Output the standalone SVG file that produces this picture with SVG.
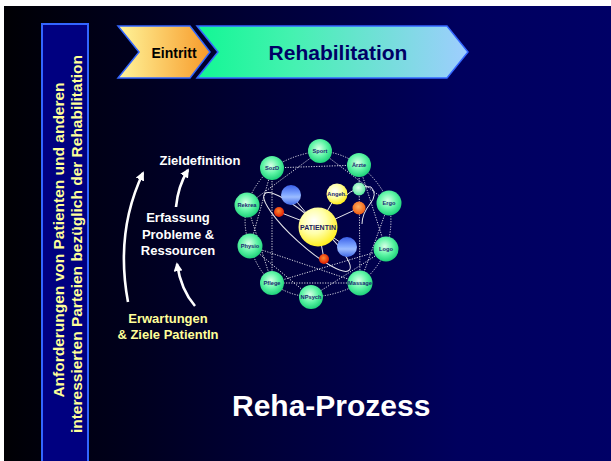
<svg xmlns="http://www.w3.org/2000/svg" width="611" height="461" viewBox="0 0 611 461">
<defs>
<linearGradient id="bg" x1="0" y1="0" x2="1" y2="0">
<stop offset="0" stop-color="#000004"/>
<stop offset="0.75" stop-color="#00005e"/>
<stop offset="1" stop-color="#000066"/>
</linearGradient>
<linearGradient id="gEin" x1="0" y1="0" x2="1" y2="0">
<stop offset="0" stop-color="#fff59a"/>
<stop offset="1" stop-color="#f79a2a"/>
</linearGradient>
<linearGradient id="gReha" x1="0" y1="0" x2="1" y2="0">
<stop offset="0" stop-color="#12f794"/>
<stop offset="0.35" stop-color="#44f2b0"/>
<stop offset="1" stop-color="#9fcdff"/>
</linearGradient>
<radialGradient id="gGreen" cx="0.45" cy="0.4" r="0.6">
<stop offset="0" stop-color="#d8ffe6"/>
<stop offset="0.55" stop-color="#5ff5a6"/>
<stop offset="1" stop-color="#1ed27a"/>
</radialGradient>
<radialGradient id="gYellow" cx="0.4" cy="0.35" r="0.65">
<stop offset="0" stop-color="#ffffff"/>
<stop offset="0.5" stop-color="#ffffa8"/>
<stop offset="1" stop-color="#ffee22"/>
</radialGradient>
<linearGradient id="gBlue" x1="0" y1="0" x2="0" y2="1">
<stop offset="0" stop-color="#3a5fe8"/>
<stop offset="0.45" stop-color="#7fa6ff"/>
<stop offset="0.6" stop-color="#9cbcff"/>
<stop offset="1" stop-color="#3d66e6"/>
</linearGradient>
<radialGradient id="gOrange" cx="0.45" cy="0.4" r="0.6">
<stop offset="0" stop-color="#ffb060"/>
<stop offset="1" stop-color="#f05a10"/>
</radialGradient>
<radialGradient id="gRed" cx="0.45" cy="0.4" r="0.6">
<stop offset="0" stop-color="#ff8a30"/>
<stop offset="1" stop-color="#e01a00"/>
</radialGradient>
<radialGradient id="gLight" cx="0.45" cy="0.4" r="0.6">
<stop offset="0" stop-color="#e0fff0"/>
<stop offset="1" stop-color="#55e89a"/>
</radialGradient>
<marker id="arr" viewBox="0 0 10 10" refX="8" refY="5" markerWidth="9" markerHeight="9" markerUnits="userSpaceOnUse" orient="auto">
<path d="M0,0 L10,5 L0,10 z" fill="#ffffff"/>
</marker>
<style>
.vt{font-family:"Liberation Sans",Arial,sans-serif;font-weight:bold;font-size:15.5px;fill:#ffff99}
.wt{font-family:"Liberation Sans",Arial,sans-serif;font-weight:bold;font-size:13px;fill:#ffffff}
.yt{font-family:"Liberation Sans",Arial,sans-serif;font-weight:bold;font-size:13px;fill:#ffff99}
.nl{font-family:"Liberation Sans",Arial,sans-serif;font-weight:bold;font-size:5.7px;fill:#1a2870}
.node{fill:url(#gGreen)}
.dot{fill:none;stroke:#ffffff;stroke-width:1;stroke-dasharray:1.2 1.4;opacity:0.85}
.sol{fill:none;stroke:#ffffff;stroke-width:1;opacity:0.9}
.arrow{fill:none;stroke:#ffffff;stroke-width:2.6;marker-end:url(#arr)}
</style>
</defs>

<rect x="0" y="0" width="611" height="461" fill="#ffffff"/>
<rect x="4" y="6" width="607" height="455" fill="url(#bg)"/>

<g id="side-box">
<rect x="42" y="24" width="46" height="445" fill="#000080" stroke="#3366ff" stroke-width="2"/>
<text class="vt" transform="translate(64,240) rotate(-90)" text-anchor="middle">Anforderungen von Patienten und anderen</text>
<text class="vt" transform="translate(82,244) rotate(-90)" text-anchor="middle">interessierten Parteien bezüglich der Rehabilitation</text>
</g>

<g id="eintritt">
<polygon points="118,26 190,26 210,52 190,78 118,78 139,52" fill="url(#gEin)" stroke="#3366ff" stroke-width="1.5"/>
<text x="174" y="57.5" text-anchor="middle" font-family="'Liberation Sans',Arial,sans-serif" font-weight="bold" font-size="14" fill="#000000">Eintritt</text>
</g>

<g id="rehabilitation">
<polygon points="197,26 447,26 468,52 447,78 197,78 218,52" fill="url(#gReha)" stroke="#3366ff" stroke-width="1.5"/>
<text x="338" y="60" text-anchor="middle" font-family="'Liberation Sans',Arial,sans-serif" font-weight="bold" font-size="21" fill="#000066">Rehabilitation</text>
</g>

<g id="labels">
<text class="wt" x="159.5" y="165">Zieldefinition</text>
<text class="wt" x="178" y="222" text-anchor="middle">Erfassung</text>
<text class="wt" x="178" y="238.5" text-anchor="middle">Probleme &amp;</text>
<text class="wt" x="178" y="255" text-anchor="middle">Ressourcen</text>
<text class="yt" x="168" y="322.5" text-anchor="middle">Erwartungen</text>
<text class="yt" x="168" y="338.5" text-anchor="middle">&amp; Ziele PatientIn</text>
</g>

<g id="arrows">
<path class="arrow" d="M128,302 Q115,232 143,173"/>
<path class="arrow" d="M176,207 Q178,186 188,170"/>
<path class="arrow" d="M195,306 Q181,290 177,264"/>
</g>

<g id="connectors">
<!-- outer ring -->
<path class="dot" d="M320,151 Q341,152 359,165"/>
<path class="dot" d="M359,165 Q379,180 389,203"/>
<path class="dot" d="M389,203 Q394,226 386,249"/>
<path class="dot" d="M386,249 Q378,270 360,283"/>
<path class="dot" d="M360,283 Q337,296 311,297"/>
<path class="dot" d="M311,297 Q289,296 272,283"/>
<path class="dot" d="M272,283 Q256,268 250,246"/>
<path class="dot" d="M250,246 Q242,226 247,205"/>
<path class="dot" d="M247,205 Q254,183 272,168"/>
<path class="dot" d="M272,168 Q294,154 320,151"/>
<!-- chords -->
<path class="dot" d="M320,151 L389,203"/>
<path class="dot" d="M359,165 L386,249"/>
<path class="dot" d="M389,203 L360,283"/>
<path class="dot" d="M386,249 L311,297"/>
<path class="dot" d="M360,283 L272,283"/>
<path class="dot" d="M311,297 L250,246"/>
<path class="dot" d="M272,283 L247,205"/>
<path class="dot" d="M250,246 L272,168"/>
<path class="dot" d="M247,205 L320,151"/>
<path class="dot" d="M272,168 L359,165"/>
<path class="dot" d="M250,246 L360,283"/>
<path class="dot" d="M272,283 L386,249"/>
<path class="dot" d="M359,165 L360,283"/>
<path class="dot" d="M272,168 L272,283"/>
<!-- orbits and spokes -->
<ellipse class="sol" cx="307" cy="232" rx="57" ry="13" transform="rotate(42 307 232)"/>
<path class="sol" d="M343,198 Q358,184 371,187 Q378,194 370,204 Q362,214 362,224"/>
<line class="sol" x1="291" y1="195" x2="318" y2="227"/>
<line class="sol" x1="279" y1="212" x2="318" y2="227"/>
<line class="sol" x1="337" y1="194" x2="318" y2="227"/>
<line class="sol" x1="359" y1="208" x2="318" y2="227"/>
<line class="sol" x1="347" y1="247" x2="318" y2="227"/>
<line class="sol" x1="324" y1="259" x2="318" y2="227"/>
</g>

<g id="satellites">
<circle cx="291" cy="195" r="10" fill="url(#gBlue)"/>
<circle cx="347" cy="247" r="10" fill="url(#gBlue)"/>
<circle cx="359" cy="189" r="6.5" fill="url(#gLight)"/>
<circle cx="359" cy="208" r="6.5" fill="url(#gOrange)"/>
<circle cx="279" cy="212" r="5" fill="url(#gRed)"/>
<circle cx="324" cy="259" r="5" fill="url(#gRed)"/>
</g>

<g id="patientin">
<circle cx="318" cy="227" r="19.5" fill="url(#gYellow)"/>
<text x="318" y="229.5" text-anchor="middle" font-family="'Liberation Sans',Arial,sans-serif" font-weight="bold" font-size="7" fill="#1a2060">PATIENTIN</text>
</g>
<g id="angeh">
<circle cx="337" cy="194" r="10.5" fill="url(#gYellow)"/>
<text class="nl" x="337" y="196" text-anchor="middle">Angeh.</text>
</g>

<g id="sport"><circle class="node" cx="320" cy="151" r="12"/><text class="nl" x="320" y="153" text-anchor="middle">Sport</text></g>
<g id="aerzte"><circle class="node" cx="359" cy="165" r="12"/><text class="nl" x="359" y="167" text-anchor="middle">Ärzte</text></g>
<g id="ergo"><circle class="node" cx="389" cy="203" r="12.5"/><text class="nl" x="389" y="205" text-anchor="middle">Ergo</text></g>
<g id="logo"><circle class="node" cx="386" cy="249" r="12.5"/><text class="nl" x="386" y="251" text-anchor="middle">Logo</text></g>
<g id="massage"><circle class="node" cx="360" cy="283" r="12.5"/><text class="nl" x="360" y="285" text-anchor="middle">Massage</text></g>
<g id="npsych"><circle class="node" cx="311" cy="297" r="12"/><text class="nl" x="311" y="299" text-anchor="middle">NPsych</text></g>
<g id="pflege"><circle class="node" cx="272" cy="283" r="12"/><text class="nl" x="272" y="285" text-anchor="middle">Pflege</text></g>
<g id="physio"><circle class="node" cx="250" cy="246" r="12.5"/><text class="nl" x="250" y="248" text-anchor="middle">Physio</text></g>
<g id="rekrea"><circle class="node" cx="247" cy="205" r="12.5"/><text class="nl" x="247" y="207" text-anchor="middle">Rekrea</text></g>
<g id="sozd"><circle class="node" cx="272" cy="168" r="12"/><text class="nl" x="272" y="170" text-anchor="middle">SozD</text></g>

<g id="title">
<text x="232" y="416" font-family="'Liberation Sans',Arial,sans-serif" font-weight="bold" font-size="30" fill="#ffffff">Reha-Prozess</text>
</g>
</svg>
